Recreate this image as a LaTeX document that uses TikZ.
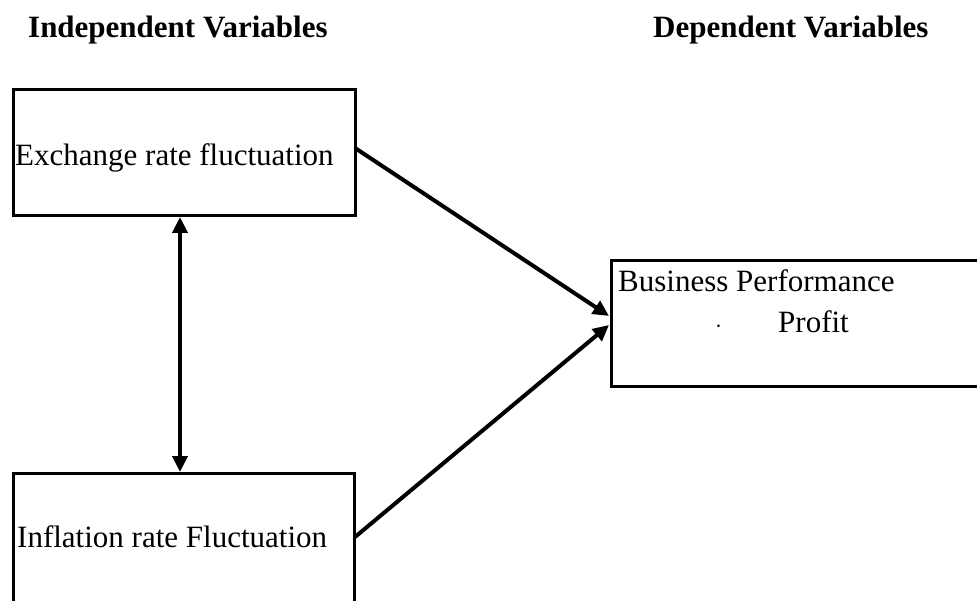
\documentclass[tikz,border=0pt]{standalone}
\usepackage{fontspec}
\setmainfont{Liberation Serif}
\usetikzlibrary{arrows.meta}
\begin{document}
\begin{tikzpicture}[x=1pt,y=-1pt,
  box/.style={draw=black,line width=3pt,inner sep=0pt},
  lbl/.style={anchor=base west,inner sep=0pt,font=\fontsize{31}{36}\selectfont},
  hdr/.style={anchor=base west,inner sep=0pt,font=\fontsize{31}{36}\selectfont\bfseries},
  conn/.style={line width=4pt,-{Triangle[length=16pt,width=15pt]}},
  dconn/.style={line width=4pt,{Triangle[length=16pt,width=15pt]}-{Triangle[length=16pt,width=15pt]}}]
\useasboundingbox (0,0) rectangle (977,601);
\begin{scope}
\clip (0,0) rectangle (977,601);
% headers
\node[hdr] (hi) at (28,38) {Independent Variables};
\node[hdr] (hd) at (653,38) {Dependent Variables};
% boxes
\node[box,minimum width=342pt,minimum height=126pt,anchor=north west] (ex) at (11.5,88) {};
\node[box,minimum width=341pt,minimum height=160pt,anchor=north west] (inf) at (12,472) {};
\node[box,minimum width=400pt,minimum height=126pt,anchor=north west] (bp) at (610,259) {};
% texts
\node[lbl] (ext) at (15,166) {Exchange rate fluctuation};
\node[lbl] (inft) at (17,547) {Inflation rate Fluctuation};
\node[lbl] (bpt) at (618,292) {Business Performance};
\node[lbl] (dot) at (715,333) {$\cdot$};
\node[lbl] (pft) at (778,333) {Profit};
% connectors
\coordinate (a1) at (355,148);
\coordinate (a2) at (355,537);
\coordinate (t1) at (609,316);
\coordinate (t2) at (609,325);
\draw[conn] (a1) -- (t1);
\draw[conn] (a2) -- (t2);
\draw[dconn] (ex.south -| 180,0) -- (inf.north -| 180,0);
\end{scope}
\end{tikzpicture}
\end{document}
